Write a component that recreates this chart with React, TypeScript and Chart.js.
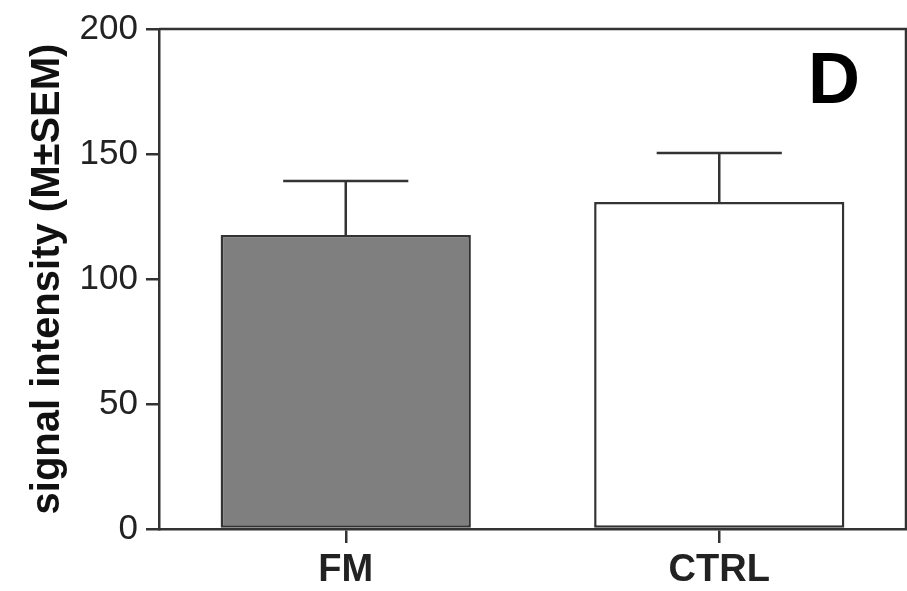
import React, { useEffect, useRef } from "react";
import { Chart, registerables } from "chart.js";

Chart.register(...registerables);

const categories = ["FM", "CTRL"];
const means = [117.6, 130.8];
const sems = [21.6, 19.6];
const barColors = ["#7f7f7f", "#ffffff"];
const yTicks = [0, 50, 100, 150, 200];
const yTitle = "signal intensity (M±SEM)";
const panelLabel = "D";

const FONT = "'Liberation Sans', Arial, Helvetica, sans-serif";
const LINE = "#333333";

const errorBarPlugin = {
  id: "errorBars",
  afterDatasetsDraw(chart: any) {
    const ctx = chart.ctx;
    const meta = chart.getDatasetMeta(0);
    const y = chart.scales.y;
    ctx.save();
    ctx.strokeStyle = LINE;
    ctx.lineWidth = 2.5;
    meta.data.forEach((bar: any, i: number) => {
      const x = bar.x;
      const yMean = y.getPixelForValue(means[i]);
      const yTop = y.getPixelForValue(means[i] + sems[i]);
      const half = bar.width * 0.25;
      ctx.beginPath();
      ctx.moveTo(x, yMean);
      ctx.lineTo(x, yTop);
      ctx.moveTo(x - half, yTop);
      ctx.lineTo(x + half, yTop);
      ctx.stroke();
    });
    ctx.restore();
  },
};

const framePlugin = {
  id: "frame",
  afterDraw(chart: any) {
    const { ctx, chartArea } = chart;
    ctx.save();
    ctx.strokeStyle = LINE;
    ctx.lineWidth = 2.5;
    ctx.beginPath();
    ctx.moveTo(chartArea.left, chartArea.top);
    ctx.lineTo(chartArea.right, chartArea.top);
    ctx.lineTo(chartArea.right, chartArea.bottom);
    ctx.stroke();
    ctx.fillStyle = "#000";
    ctx.font = `bold 72px ${FONT}`;
    ctx.textAlign = "center";
    ctx.textBaseline = "middle";
    ctx.fillText(panelLabel, 834, 83);
    ctx.restore();
  },
};

export default function App() {
  const ref = useRef<HTMLCanvasElement>(null);
  useEffect(() => {
    if (!ref.current) return;
    const chart = new Chart(ref.current, {
      type: "bar",
      data: {
        labels: categories,
        datasets: [
          {
            data: means,
            backgroundColor: barColors,
            borderColor: LINE,
            borderWidth: 2.5,
            borderSkipped: false,
            categoryPercentage: 1,
            barPercentage: 0.67,
          },
        ],
      },
      options: {
        animation: false,
        responsive: false,
        maintainAspectRatio: false,
        layout: { padding: { top: 29, right: 1, left: 0, bottom: 0 } },
        plugins: { legend: { display: false }, tooltip: { enabled: false } },
        scales: {
          x: {
            grid: {
              offset: false,
              drawOnChartArea: false,
              drawTicks: true,
              tickLength: 14,
              color: LINE,
              lineWidth: 2.5,
            },
            border: { display: true, color: LINE, width: 2.5 },
            ticks: {
              color: "#222",
              font: { family: FONT, size: 38, weight: "bold" },
              padding: 5,
            },
            afterFit(scale: any) {
              scale.height = 62;
            },
          },
          y: {
            min: 0,
            max: 200,
            afterBuildTicks(scale: any) {
              scale.ticks = yTicks.map((v) => ({ value: v }));
            },
            grid: {
              drawOnChartArea: false,
              drawTicks: true,
              tickLength: 13,
              color: LINE,
              lineWidth: 2.5,
            },
            border: { display: true, color: LINE, width: 2.5 },
            ticks: {
              color: "#222",
              font: { family: FONT, size: 35 },
              padding: 8,
            },
            title: {
              display: true,
              text: yTitle,
              color: "#111",
              font: { family: FONT, size: 40, weight: "bold" },
              padding: { top: 24, bottom: 0 },
            },
            afterFit(scale: any) {
              scale.width = 159;
            },
          },
        },
      },
      plugins: [errorBarPlugin, framePlugin],
    });
    return () => chart.destroy();
  }, []);
  return (
    <div style={{ position: "fixed", left: 0, top: 0, width: 907, height: 591, background: "#fff" }}>
      <canvas ref={ref} width={907} height={591} style={{ display: "block" }} />
    </div>
  );
}
